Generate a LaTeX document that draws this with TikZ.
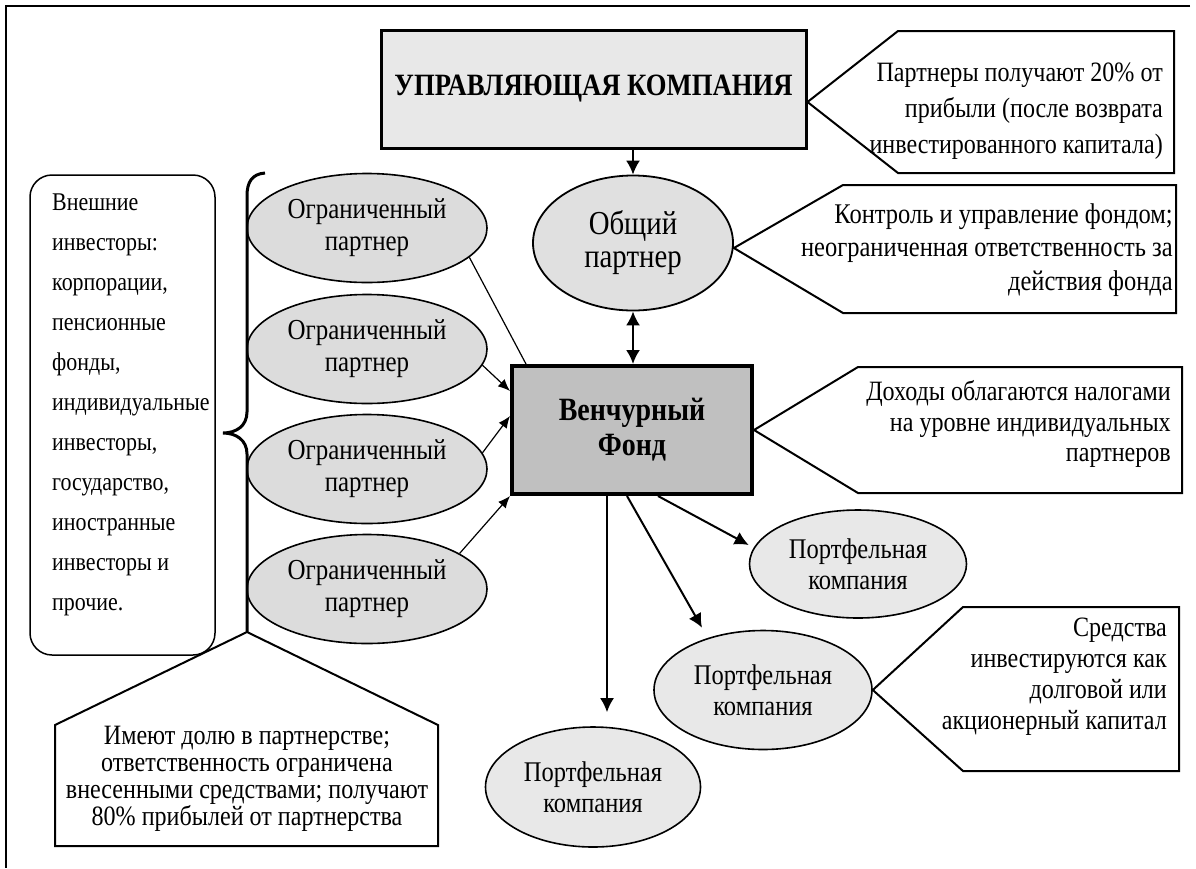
\documentclass[tikz,border=0pt]{standalone}
\usepackage{fontspec}
\setmainfont[FakeStretch=0.86]{Liberation Serif}
\usepackage{tikz}
\usetikzlibrary{arrows.meta}
\usetikzlibrary{shapes.geometric}
\usetikzlibrary{calc}

\definecolor{umcgray}{HTML}{E8E8E8}
\definecolor{gpgray}{HTML}{E0E0E0}
\definecolor{lpgray}{HTML}{DCDCDC}
\definecolor{pcgray}{HTML}{E8E8E8}
\definecolor{fundgray}{HTML}{C0C0C0}

\begin{document}
\begin{tikzpicture}[x=1pt,y=-1pt,
    lp/.style={ellipse, draw, line width=1.6pt, fill=lpgray, minimum width=240pt, minimum height=109pt, inner sep=0pt, align=center, font=\fontsize{29}{32}\selectfont},
    pc/.style={ellipse, draw, line width=1.6pt, fill=pcgray, inner sep=0pt, align=center, font=\fontsize{28.5}{31}\selectfont},
    note/.style={anchor=east, align=right, inner sep=0pt},
    callout/.style={draw, line width=2pt, fill=white},
    arr/.style={-{Latex[length=14pt,width=14pt]}, line width=2pt},
    thinarr/.style={-{Latex[length=12pt,width=10pt]}, line width=1.2pt}]
        \useasboundingbox (0,0) rectangle (1196,868);
        \draw[line width=2pt] (1190,6) -- (6,6) -- (6,868);

        \node[draw, line width=3pt, fill=umcgray, minimum width=425pt, minimum height=118pt, font=\bfseries\fontsize{31}{32}\selectfont] (umc) at (593.5,89) {УПРАВЛЯЮЩАЯ КОМПАНИЯ};
        \node[ellipse, draw, line width=1.8pt, fill=gpgray, minimum width=200pt, minimum height=135pt, inner sep=0pt, align=center, font=\fontsize{33.5}{33}\selectfont] (gp) at (633,243) {Общий\\партнер};
        \node[draw, line width=4pt, fill=fundgray, minimum width=240pt, minimum height=128pt, align=center, font=\bfseries\fontsize{32.5}{35}\selectfont] (fund) at (632,430) {Венчурный\\Фонд};

        \foreach \y/\n in {228/1,349/2,469/3,589/4}
            \node[lp] (lp\n) at (367,\y) {Ограниченный\\партнер};

        \node[pc, minimum width=217pt, minimum height=108pt] (pc1) at (858,564) {Портфельная\\компания};
        \node[pc, minimum width=218pt, minimum height=119pt] (pc2) at (763,690) {Портфельная\\компания};
        \node[pc, minimum width=215pt, minimum height=120pt] (pc3) at (593,787) {Портфельная\\компания};

        \node[draw, rounded corners=22pt, line width=1.5pt, minimum width=185pt, minimum height=480pt] (inv) at (122.5,415) {};
        \node[anchor=north west, inner sep=0pt, align=left, font=\fontsize{25.5}{40}\selectfont] (invtext) at (52,194) {Внешние\\инвесторы:\\корпорации,\\пенсионные\\фонды,\\индивидуальные\\инвесторы,\\государство,\\иностранные\\инвесторы и\\прочие.};

        % brace
        \draw[line width=3pt] (265,173) .. controls (252,174) and (247,182) .. (247,196) -- (247,412)
            .. controls (247,426) and (236,433) .. (223,433)
            .. controls (236,433) and (247,440) .. (247,454) -- (247,632) coordinate (bracetip);

        % callouts
        \coordinate (n1a) at (898,31);  \coordinate (n1b) at (1174,173);
        \coordinate (n2a) at (843,185); \coordinate (n2b) at (1176,313);
        \coordinate (n3a) at (858,367); \coordinate (n3b) at (1182,493);
        \coordinate (n4a) at (963,607); \coordinate (n4b) at (1179,771);
        \coordinate (n5a) at (55,725);  \coordinate (n5b) at (438,846);
        \draw[callout] (umc.east |- 0,102) -- (n1a) -- (n1b |- n1a) -- (n1b) -- (n1a |- n1b) -- cycle;
        \draw[callout] (gp.east |- 0,248) -- (n2a) -- (n2b |- n2a) -- (n2b) -- (n2a |- n2b) -- cycle;
        \draw[callout] (fund.east) -- (n3a) -- (n3b |- n3a) -- (n3b) -- (n3a |- n3b) -- cycle;
        \draw[callout] (pc2.east) -- (n4a) -- (n4b |- n4a) -- (n4b) -- (n4a |- n4b) -- cycle;
        \draw[callout] (bracetip) -- (n5b |- n5a) -- (n5b) -- (n5a |- n5b) -- (n5a) -- cycle;

        \node[note, font=\fontsize{28}{36}\selectfont] (t1) at (1163,111) {Партнеры получают 20\% от\\прибыли (после возврата\\инвестированного капитала)};
        \node[note, font=\fontsize{28.5}{33.5}\selectfont] (t2) at (1173,250) {Контроль и управление фондом;\\неограниченная ответственность за\\действия фонда};
        \node[note, font=\fontsize{28}{30.5}\selectfont] (t3) at (1171,424) {Доходы облагаются налогами\\на уровне индивидуальных\\партнеров};
        \node[note, font=\fontsize{28}{31}\selectfont] (t4) at (1167,677) {Средства\\инвестируются как\\долговой или\\акционерный капитал};
        \node[inner sep=0pt, align=center, font=\fontsize{28}{27}\selectfont] (t5) at (247,779) {Имеют долю в партнерстве;\\ответственность ограничена\\внесенными средствами; получают\\80\% прибылей от партнерства};

        % connectors
        \draw[arr] (gp.north |- umc.south) -- (gp.north);
        \draw[arr, {Latex[length=14pt,width=14pt]}-{Latex[length=14pt,width=14pt]}] (gp.south) -- (gp.south |- fund.north);
        \draw[line width=1.2pt] (lp1.-16) -- ([xshift=16pt]fund.north west);
        \draw[thinarr] (lp2.-8) -- ([yshift=-27pt]fund.north west);
        \draw[thinarr] (lp3.8) -- ([yshift=-52pt]fund.north west);
        \draw[thinarr] (lp4.21) -- (fund.south west);
        \draw[arr] ([xshift=-25pt]fund.south) -- ([xshift=14pt,yshift=14pt]pc3.north);
        \draw[arr] ([xshift=-5pt]fund.south) -- ([xshift=-61pt,yshift=2pt]pc2.north);
        \draw[arr] ([xshift=26pt]fund.south) -- ([yshift=19pt]pc1.west);
\end{tikzpicture}
\end{document}
